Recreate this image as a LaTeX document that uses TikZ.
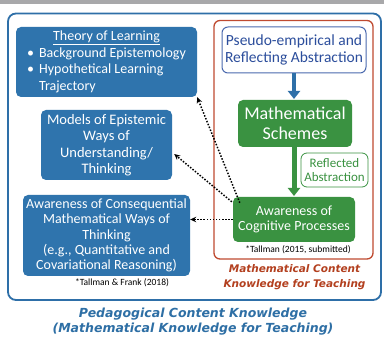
\documentclass[tikz,border=0pt]{standalone}
\usepackage{fontspec}
\setmainfont{Carlito}
\newfontfamily\headfont{DejaVu Sans}
\usetikzlibrary{arrows.meta,calc}

\definecolor{topgray}{HTML}{A8A8AA}
\definecolor{frameblue}{HTML}{2E6FA8}
\definecolor{boxblue}{HTML}{2F74AD}
\definecolor{boxgreen}{HTML}{3A9241}
\definecolor{navytext}{HTML}{2C4E9C}
\definecolor{navyline}{HTML}{4A69AE}
\definecolor{framered}{HTML}{BF4A30}
\definecolor{redtext}{HTML}{B3401F}
\definecolor{titleblue}{HTML}{2E6FA5}

\newcommand{\fsz}[2]{\fontsize{#1}{#2}\selectfont}

\tikzset{
  bluebox/.style={fill=boxblue, rounded corners=5pt, text=white, align=center, inner sep=0pt},
  greenbox/.style={fill=boxgreen, rounded corners=5pt, text=white, align=center, inner sep=0pt},
  outlinebox/.style={fill=white, rounded corners=6pt, align=center, inner sep=0pt},
  cite/.style={font=\fsz{9.5}{11}, text=black, inner sep=0pt},
  heading/.style={align=center, inner sep=0pt},
  linkarrow/.style={black, line width=1.5pt, dash pattern=on 1.5pt off 1.6pt,
    -{Stealth[length=6pt,width=5.5pt]}},
  flowarrow/.style={line width=4pt, -{Triangle[length=8pt,width=12pt]}}
}

\begin{document}
\begin{tikzpicture}[x=1pt,y=-1pt]
\useasboundingbox (0,0) rectangle (384,339);
\fill[white] (0,0) rectangle (384,339);
\fill[topgray] (0,0) rectangle (384,4.3);

% outer frame: pedagogical content knowledge
\draw[frameblue, line width=1.8pt, rounded corners=8pt] (8,13.5) rectangle (381,300);
% inner frame: mathematical content knowledge for teaching
\draw[framered, line width=1.3pt, rounded corners=6pt] (214,20.5) rectangle (373,259);

% left column
\node[bluebox, minimum width=181pt, minimum height=70pt, font=\fsz{14}{16.5}] (theory) at (106.5,62)
  {\begin{tabular}{@{}c@{\hspace{5pt}}l@{}}
   \multicolumn{2}{c}{\underline{Theory of Learning}}\\
   \textbullet & Background Epistemology\\
   \textbullet & Hypothetical Learning\\
   & Trajectory
   \end{tabular}};
\node[bluebox, minimum width=131pt, minimum height=70pt, font=\fsz{14.5}{16.5}] (models) at (106.5,145)
  {Models of Epistemic\\Ways of\\Understanding/\\Thinking};
\node[bluebox, minimum width=167pt, minimum height=81pt, font=\fsz{14}{15.4}] (conseq) at (106.5,235.5)
  {Awareness of Consequential\\Mathematical Ways of\\Thinking\\(e.g., Quantitative and\\Covariational Reasoning)};
\node[cite] (citeB) at (122,283) {*Tallman \& Frank (2018)};

% right column
\node[outlinebox, draw=navyline, line width=1pt, text=navytext,
      minimum width=144pt, minimum height=46pt, font=\fsz{15.5}{17.7}] (pseudo) at (294,50)
  {Pseudo-empirical and\\Reflecting Abstraction};
\node[greenbox, minimum width=114pt, minimum height=47pt, font=\fsz{18}{20}] (schemes) at (295,123.5)
  {Mathematical\\Schemes};
\node[outlinebox, draw=boxgreen, line width=0.8pt, text=boxgreen,
      minimum width=67pt, minimum height=34pt, font=\fsz{13}{14.5}] (reflect) at (334.5,170)
  {Reflected\\Abstraction};
\node[greenbox, minimum width=122pt, minimum height=45pt, font=\fsz{14}{15}] (cog) at (294,219.5)
  {Awareness of\\Cognitive Processes};
\node[cite] (citeA) at (298,250) {*Tallman (2015, submitted)};

\node[heading, text=redtext, font=\headfont\bfseries\itshape\fsz{10.5}{15}] (mckt) at (294.5,277.5)
  {Mathematical Content\\Knowledge for Teaching};
\node[heading, text=titleblue, font=\headfont\bfseries\itshape\fsz{12.5}{14.5}] (pck) at (193,321.5)
  {Pedagogical Content Knowledge\\(Mathematical Knowledge for Teaching)};

% flow inside the right frame
\draw[flowarrow, color=frameblue] (pseudo.south -| 294,0) -- (294,99);
\draw[flowarrow, color=boxgreen, line width=5pt] (schemes.south -| 294,0) -- (294,196);

% links back to the left column
\draw[linkarrow] ($(cog.north west)+(7,6)$) -- (theory.south east);
\draw[linkarrow] ($(cog.north west)+(-1,5)$) -- ($(models.east)+(2,9)$);
\draw[linkarrow] (cog.west) -- (conseq.east |- cog.west);
\end{tikzpicture}
\end{document}
